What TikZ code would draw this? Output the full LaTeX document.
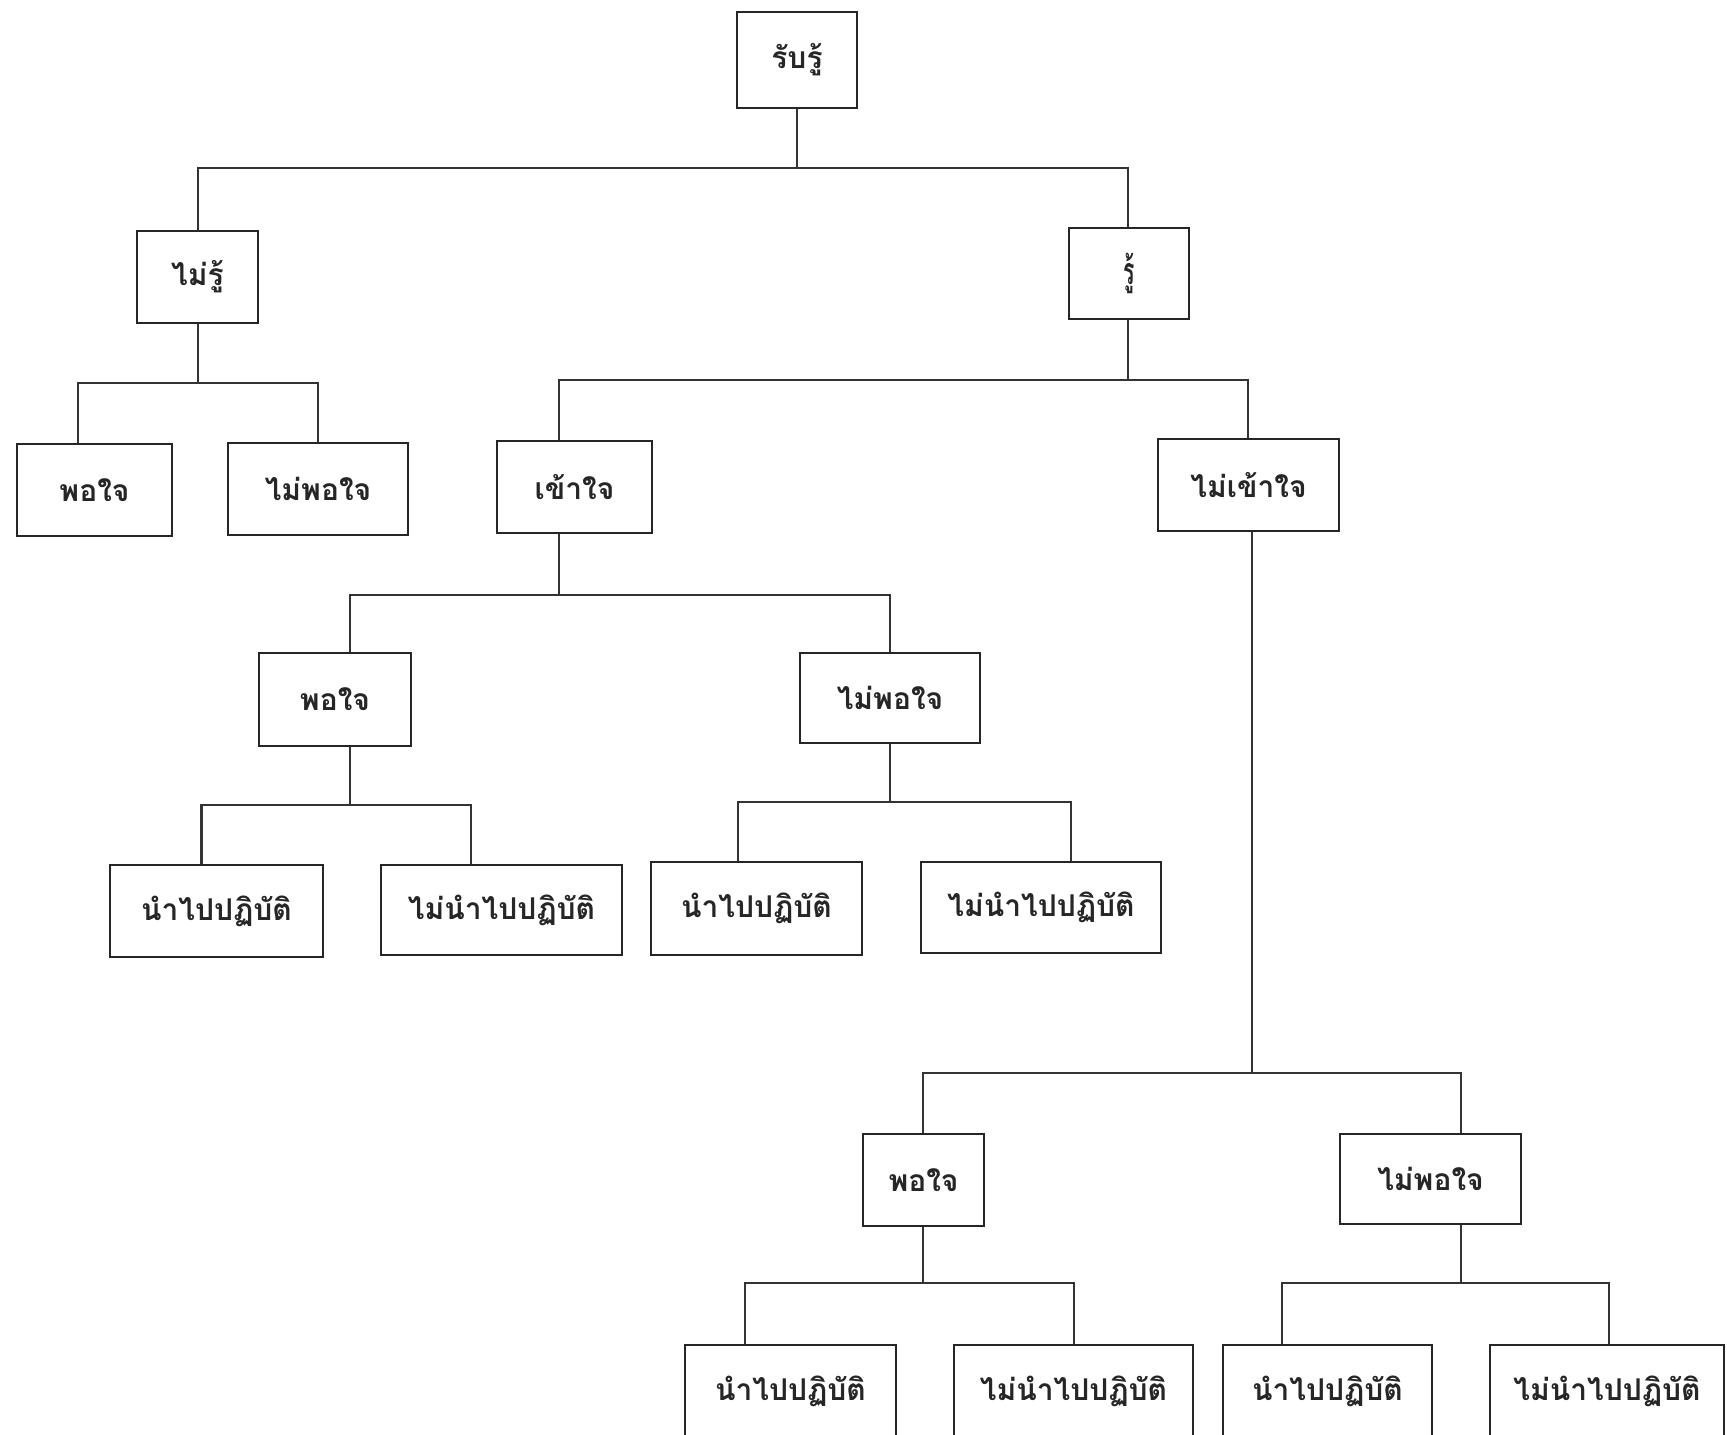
\documentclass[tikz,border=0pt]{standalone}
\usepackage{fontspec}
\usepackage{graphicx}
\newfontfamily\thaifont[Script=Thai]{Loma}
\begin{document}
\begin{tikzpicture}[x=1pt,y=-1pt,
  box/.style={draw=black!85,line width=2.6pt,fill=white,inner sep=0pt,
    font=\thaifont\fontsize{30}{36}\selectfont\bfseries,text=black!85},
  link/.style={draw=black!80,line width=2.5pt,line join=miter}]
\useasboundingbox (0,0) rectangle (1727,1435);
\fill[white] (0,0) rectangle (1727,1435);
% nodes: centre, width, height
\node[box,minimum width=120pt,minimum height=96pt] (root) at (797,60) {รับรู้};
\node[box,minimum width=121pt,minimum height=92pt] (nr) at (197.5,277) {ไม่รู้};
\node[box,minimum width=120pt,minimum height=91pt] (r) at (1129,273.5) {\scalebox{0.7}[1.25]{รู้}};
\node[box,minimum width=155pt,minimum height=92pt] (a1) at (94.5,490) {พอใจ};
\node[box,minimum width=180pt,minimum height=92pt] (a2) at (318,489) {ไม่พอใจ};
\node[box,minimum width=155pt,minimum height=92pt] (b1) at (574.5,487) {เข้าใจ};
\node[box,minimum width=181pt,minimum height=92pt] (b2) at (1248.5,485) {ไม่เข้าใจ};
\node[box,minimum width=152pt,minimum height=93pt] (c1) at (335,699.5) {พอใจ};
\node[box,minimum width=180pt,minimum height=90pt] (c2) at (890,698) {ไม่พอใจ};
\node[box,minimum width=213pt,minimum height=92pt] (d1) at (216.5,911) {นำไปปฏิบัติ};
\node[box,minimum width=241pt,minimum height=90pt] (d2) at (501.5,910) {ไม่นำไปปฏิบัติ};
\node[box,minimum width=211pt,minimum height=93pt] (d3) at (756.5,908.5) {นำไปปฏิบัติ};
\node[box,minimum width=240pt,minimum height=91pt] (d4) at (1041,907.5) {ไม่นำไปปฏิบัติ};
\node[box,minimum width=121pt,minimum height=92pt] (e1) at (923.5,1180) {พอใจ};
\node[box,minimum width=181pt,minimum height=90pt] (e2) at (1430.5,1179) {ไม่พอใจ};
\node[box,minimum width=211pt,minimum height=92pt] (f1) at (790.5,1391) {นำไปปฏิบัติ};
\node[box,minimum width=239pt,minimum height=92pt] (f2) at (1073.5,1391) {ไม่นำไปปฏิบัติ};
\node[box,minimum width=209pt,minimum height=92pt] (f3) at (1327.5,1391) {นำไปปฏิบัติ};
\node[box,minimum width=234pt,minimum height=92pt] (f4) at (1607,1391) {ไม่นำไปปฏิบัติ};
% junctions
\coordinate (j0) at (797,168);
\coordinate (j1) at (198,383);
\coordinate (j2) at (1128,380);
\coordinate (j3) at (559,595);
\coordinate (j4) at (350,805);
\coordinate (j5) at (890,802);
\coordinate (j6) at (1252,1073);
\coordinate (j7) at (923,1283);
\coordinate (j8) at (1461,1283);
% connectors
\draw[link] (root.south) -- (j0);
\draw[link] ([xshift=0.5pt]nr.north) |- (j0) -| ([xshift=-1pt]r.north);
\draw[link] ([xshift=0.5pt]nr.south) -- (j1);
\draw[link] ([xshift=-16.5pt]a1.north) |- (j1) -| (a2.north);
\draw[link] ([xshift=-1pt]r.south) -- (j2);
\draw[link] ([xshift=-15.5pt]b1.north) |- (j2) -| ([xshift=-0.5pt]b2.north);
\draw[link] ([xshift=-15.5pt]b1.south) -- (j3);
\draw[link] ([xshift=15pt]c1.north) |- (j3) -| (c2.north);
\draw[link] ([xshift=15pt]c1.south) -- (j4);
\draw[link] ([xshift=-15pt]d1.north) |- (j4) -| ([xshift=-30.5pt]d2.north);
\draw[link] (c2.south) -- (j5);
\draw[link] ([xshift=-18.5pt]d3.north) |- (j5) -| ([xshift=30pt]d4.north);
\draw[link] ([xshift=3.5pt]b2.south) -- (j6);
\draw[link] ([xshift=-0.5pt]e1.north) |- (j6) -| ([xshift=30.5pt]e2.north);
\draw[link] ([xshift=-0.5pt]e1.south) -- (j7);
\draw[link] ([xshift=-45.5pt]f1.north) |- (j7) -| ([xshift=0.5pt]f2.north);
\draw[link] ([xshift=30.5pt]e2.south) -- (j8);
\draw[link] ([xshift=-45.5pt]f3.north) |- (j8) -| ([xshift=2pt]f4.north);
\end{tikzpicture}
\end{document}
